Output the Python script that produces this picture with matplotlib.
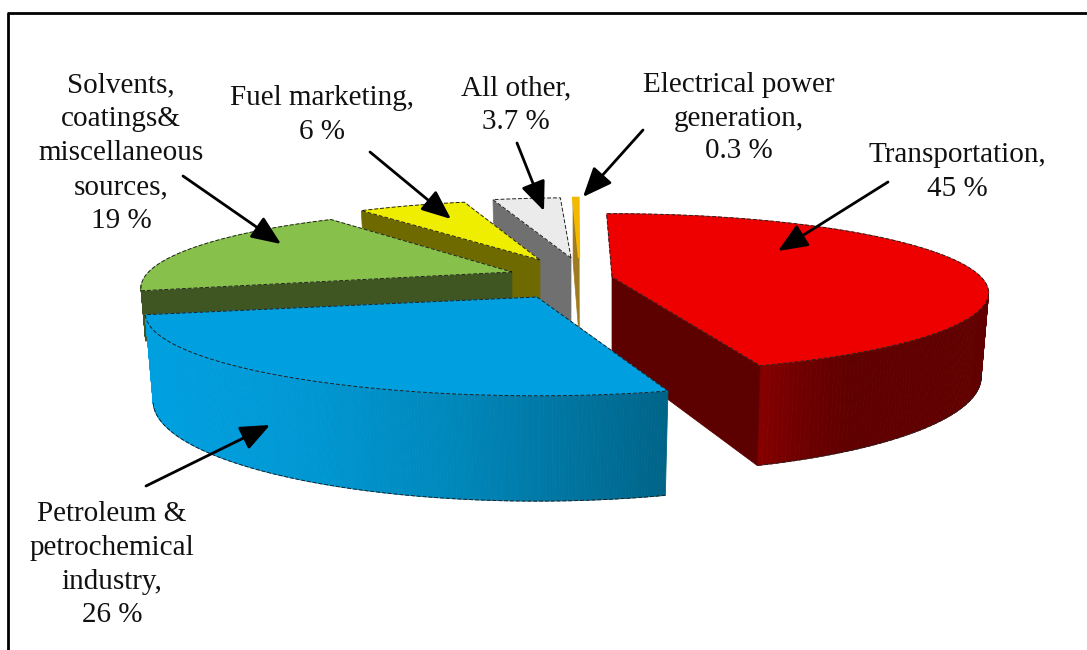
import numpy as np
import matplotlib
matplotlib.use("Agg")
import matplotlib.pyplot as plt
from matplotlib.collections import PolyCollection
from matplotlib.patches import Polygon
from matplotlib.colors import to_rgb

categories = ["Transportation", "Petroleum & petrochemical industry",
              "Solvents, coatings& miscellaneous sources", "Fuel marketing",
              "All other", "Electrical power generation"]
values = [45, 26, 19, 6, 3.7, 0.3]
value_labels = ["45 %", "26 %", "19 %", "6 %", "3.7 %", "0.3 %"]
label_lines = [["Transportation,"],
               ["Petroleum &", "petrochemical", "industry,"],
               ["Solvents,", "coatings&", "miscellaneous", "sources,"],
               ["Fuel marketing,"],
               ["All other,"],
               ["Electrical power", "generation,"]]

# exploded 3-D pie geometry (pixels)
apex = [(612, 277), (537, 297), (512, 272), (540, 260), (571, 258), (579, 258)]
slice_scale = [1.0, 1.04, 0.985, 0.94, 0.95, 0.95]
slice_depth = [1.0, 1.0, 0.6, 1.0, 1.0, 1.0]
angle_adj = [0, -3.0, -1.6, -0.3, 0, -0.9]
R, Ry, P, H, BOTTOM_X = 369.0, 76.0, 0.2, 81.0, 0.98
START = 91.0

top_col = ["#ee0000", "#00a0e0", "#88c04c", "#f0ee00", "#ebebeb", "#f5b800"]
face_col = ["#5c0000", "#006488", "#3f5522", "#6e6a00", "#707070", "#a07a20"]
grad_pos = [[755, 800, 850, 990], [146, 300, 450, 550, 668]]
grad_col = [["#8a0000", "#700000", "#600000", "#620000"],
            ["#00a0e0", "#0098d4", "#0088bb", "#0078a5", "#006488"]]
wall = ["end", None, "start", "start", "start", "both"]
order = [5, 4, 3, 2, 0, 1]

label_pos = [(957, 155), (112, 514), (121, 85), (322, 98), (516, 88), (739, 85)]
value_pos = [(957, 189), (112, 615), (121, 221), (322, 132), (516, 122), (739, 151)]
arrow_from = [(888, 182), (146, 486), (183, 176), (370, 152), (517, 143), (643, 130)]
arrow_to = [(778, 251), (270, 425), (281, 244), (451, 219), (544, 211), (583, 197)]

W, H_PX = 1087, 650
plt.rcParams["font.family"] = ["Liberation Serif", "DejaVu Serif"]
fig = plt.figure(figsize=(W / 100, H_PX / 100), dpi=100)
ax = fig.add_axes([0, 0, 1, 1])
ax.set_xlim(0, W)
ax.set_ylim(H_PX, 0)
ax.axis("off")


def proj(i, deg, bottom=False):
    a = np.radians(deg)
    s = 1.0 / (1.0 + P * np.sin(a))
    k = slice_scale[i]
    fx = BOTTOM_X if bottom else 1.0
    x = apex[i][0] + R * k * np.cos(a) * s * (1 - (1 - fx) * slice_depth[i])
    y = apex[i][1] - Ry * k * np.sin(a) * s
    if bottom:
        y = y + H * k * s * slice_depth[i]
    return np.column_stack([x, y])


def apex_pt(i, bottom=False):
    return np.array([[apex[i][0], apex[i][1] + (H * slice_scale[i] * slice_depth[i] if bottom else 0)]])


spans = 3.6 * np.array(values)
ends = START - np.cumsum(spans)
starts = ends + spans
EDGE = dict(color="#222222", lw=0.7, ls=(0, (4, 2)))

z = 2
for i in order:
    a0, a1 = starts[i] + angle_adj[i], ends[i] + angle_adj[i]
    ang = np.linspace(a0, a1, 240)
    top = proj(i, ang)

    # outer wall: only the part that faces the viewer
    vis = ang[np.sin(np.radians(ang)) < -P * 0.8]
    bot = None
    if len(vis) > 1:
        vtop = proj(i, vis)
        bot = proj(i, vis, bottom=True)
        quads = [np.vstack([vtop[j], vtop[j + 1], bot[j + 1], bot[j]]) for j in range(len(vis) - 1)]
        if i < 2:
            stops = np.array([to_rgb(c) for c in grad_col[i]])
            xm = 0.5 * (vtop[:-1, 0] + vtop[1:, 0])
            cols = np.column_stack([np.interp(xm, grad_pos[i], stops[:, c]) for c in range(3)])
        else:
            cols = [face_col[i]] * len(quads)
        ax.add_collection(PolyCollection(quads, facecolors=cols, edgecolors=cols, linewidths=0.6, zorder=z))
        z += 1

    # radial walls
    which = {"start": [a0], "end": [a1], "both": [a0, a1], None: []}[wall[i]]
    for w in which:
        p = proj(i, w)
        q = proj(i, w, bottom=True)
        poly = np.vstack([apex_pt(i), p, q, apex_pt(i, True)])
        ax.add_patch(Polygon(poly, closed=True, fc=face_col[i], ec=face_col[i], lw=0.5, zorder=z))
        z += 1

    # top face
    poly = np.vstack([apex_pt(i), top])
    lw = 1.6 if i == 5 else 0.4
    ax.add_patch(Polygon(poly, closed=True, fc=top_col[i], ec=top_col[i], lw=lw, zorder=z))
    z += 1

    # dark dashed edges
    if i != 5:
        ax.plot(*np.vstack([apex_pt(i), top, apex_pt(i)]).T, zorder=z, **EDGE)
        if i < 2 and bot is not None:
            ax.plot(*bot.T, zorder=z, **EDGE)
    z += 1

FS = 21.0
for i in range(len(values)):
    for line_y, line in zip(np.arange(len(label_lines[i])) * 34 + label_pos[i][1], label_lines[i]):
        ax.text(label_pos[i][0], line_y, line, ha="center", va="center",
                fontsize=FS, color="#111111", zorder=100)
    ax.text(value_pos[i][0], value_pos[i][1], value_labels[i], ha="center", va="center",
            fontsize=FS, color="#111111", zorder=100)
    ax.annotate("", xy=arrow_to[i], xytext=arrow_from[i], zorder=101,
                arrowprops=dict(arrowstyle="-|>,head_length=1.0,head_width=0.42", color="black",
                                lw=2.0, shrinkA=0, shrinkB=0, mutation_scale=18))

# frame
ax.plot([8, 8], [650, 13], color="black", lw=2.0, zorder=102, solid_capstyle="butt")
ax.plot([7, 1087], [13, 13], color="black", lw=2.0, zorder=102, solid_capstyle="butt")

fig.savefig("out.png", dpi=100)
